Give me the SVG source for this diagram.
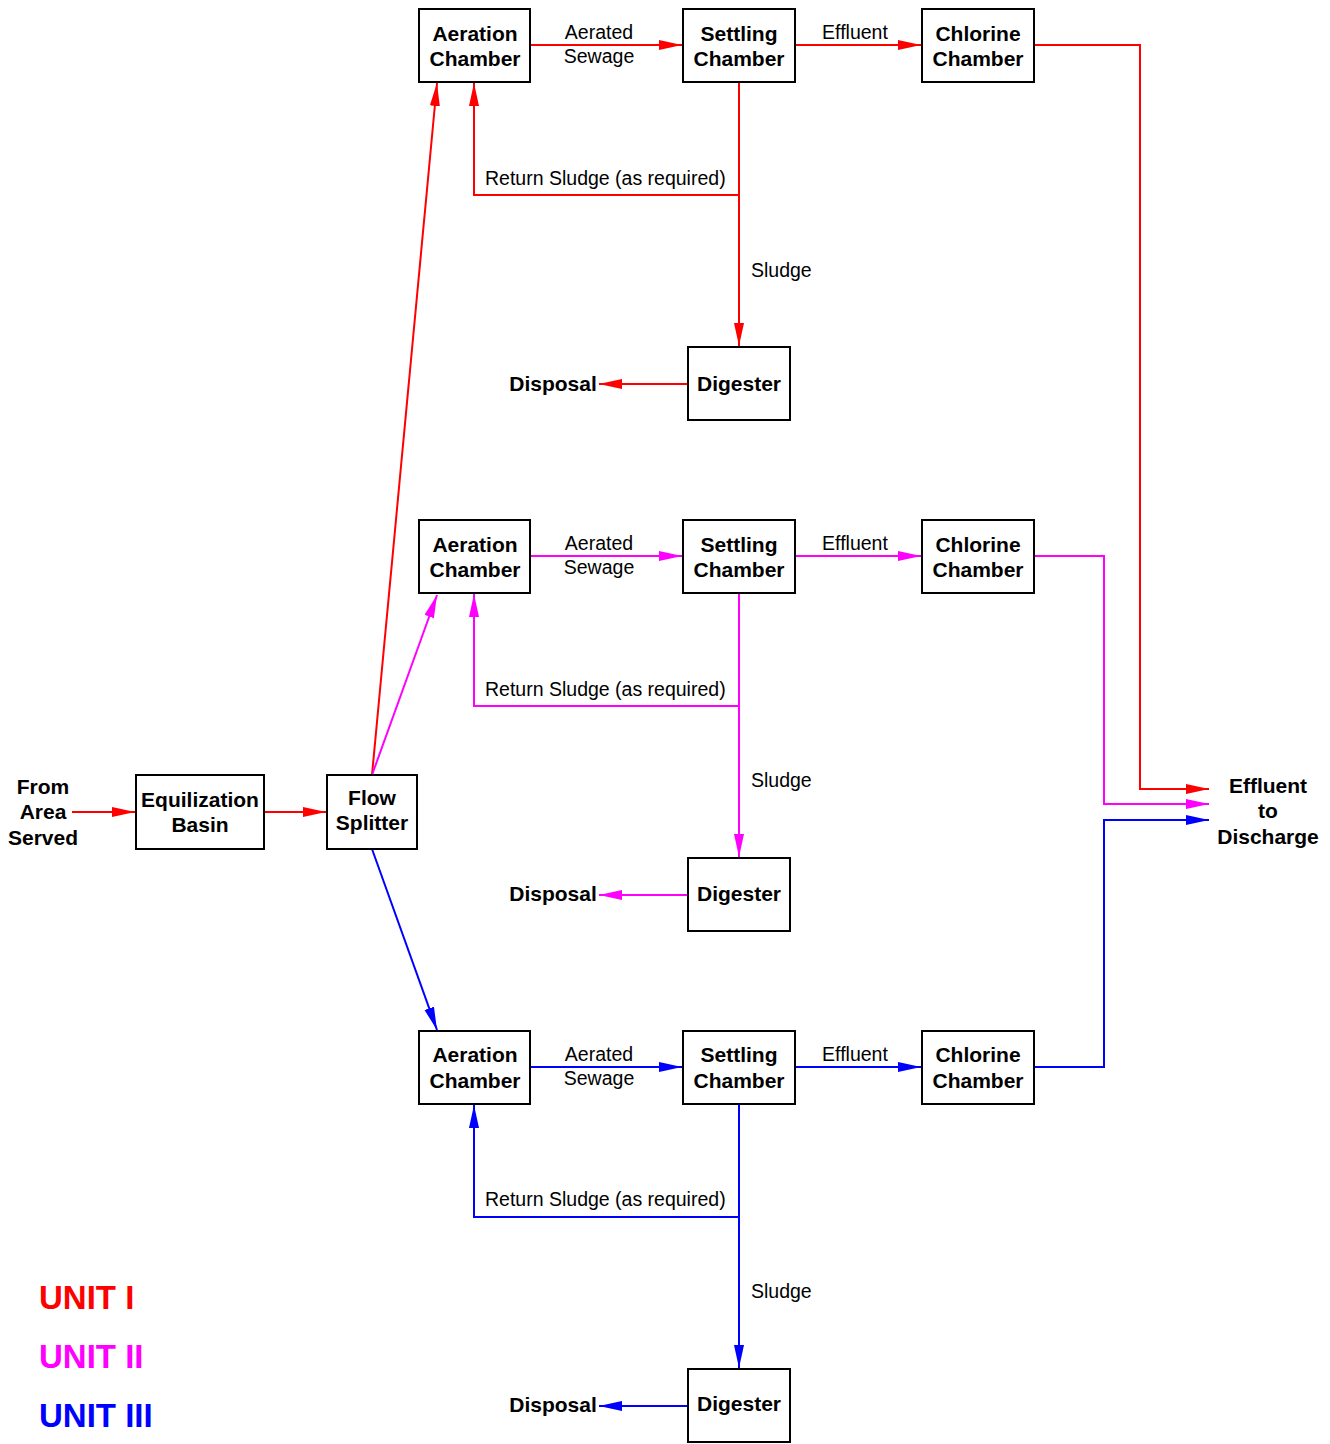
<svg xmlns="http://www.w3.org/2000/svg" width="1330" height="1444" viewBox="0 0 1330 1444">
<style>
.box{fill:#fff;stroke:#000;stroke-width:2}
.bt{font-family:"Liberation Sans",Arial,sans-serif;font-weight:bold;font-size:21px;text-anchor:middle;fill:#000}
.lt{font-family:"Liberation Sans",Arial,sans-serif;font-size:19.5px;fill:#000}
.c{text-anchor:middle}
.r{fill:none;stroke:#ff0000;stroke-width:2}
.m{fill:none;stroke:#ff00ff;stroke-width:2}
.b{fill:none;stroke:#0000ff;stroke-width:2}
.leg{font-family:"Liberation Sans",Arial,sans-serif;font-weight:bold;font-size:33px}
</style>
<defs>
<marker id="ar" markerUnits="userSpaceOnUse" markerWidth="24" markerHeight="12" refX="23" refY="5" orient="auto"><path d="M0,0 L23,5 L0,10 z" fill="#ff0000"/></marker>
<marker id="am" markerUnits="userSpaceOnUse" markerWidth="24" markerHeight="12" refX="23" refY="5" orient="auto"><path d="M0,0 L23,5 L0,10 z" fill="#ff00ff"/></marker>
<marker id="ab" markerUnits="userSpaceOnUse" markerWidth="24" markerHeight="12" refX="23" refY="5" orient="auto"><path d="M0,0 L23,5 L0,10 z" fill="#0000ff"/></marker>
</defs>

<g id="connectors">
<path class="r" d="M72,812 L135,812" marker-end="url(#ar)"/>
<path class="r" d="M264,812 L326,812" marker-end="url(#ar)"/>
<path class="r" d="M372,775 L437,83" marker-end="url(#ar)"/>
<path class="m" d="M372,775 L437,595" marker-end="url(#am)"/>
<path class="b" d="M372,849 L437,1030" marker-end="url(#ab)"/>
<path class="r" d="M530,45 L682,45" marker-end="url(#ar)"/>
<path class="r" d="M795,45 L921,45" marker-end="url(#ar)"/>
<path class="r" d="M739,82 L739,346" marker-end="url(#ar)"/>
<path class="r" d="M739,195 L474,195 L474,83" marker-end="url(#ar)"/>
<path class="r" d="M688,384 L599,384" marker-end="url(#ar)"/>
<path class="r" d="M1034,45 L1140,45 L1140,789 L1209,789" marker-end="url(#ar)"/>
<path class="m" d="M530,556 L682,556" marker-end="url(#am)"/>
<path class="m" d="M795,556 L921,556" marker-end="url(#am)"/>
<path class="m" d="M739,593 L739,857" marker-end="url(#am)"/>
<path class="m" d="M739,706 L474,706 L474,594" marker-end="url(#am)"/>
<path class="m" d="M688,895 L599,895" marker-end="url(#am)"/>
<path class="m" d="M1034,556 L1104,556 L1104,804 L1209,804" marker-end="url(#am)"/>
<path class="b" d="M530,1067 L682,1067" marker-end="url(#ab)"/>
<path class="b" d="M795,1067 L921,1067" marker-end="url(#ab)"/>
<path class="b" d="M739,1104 L739,1368" marker-end="url(#ab)"/>
<path class="b" d="M739,1217 L474,1217 L474,1105" marker-end="url(#ab)"/>
<path class="b" d="M688,1406 L599,1406" marker-end="url(#ab)"/>
<path class="b" d="M1034,1067 L1104,1067 L1104,820 L1209,820" marker-end="url(#ab)"/>
</g>

<g id="edge-labels" class="lt">
<text x="599" y="39" class="c">Aerated</text><text x="599" y="63" class="c">Sewage</text>
<text x="855" y="39" class="c">Effluent</text>
<text x="485" y="185">Return Sludge (as required)</text>
<text x="751" y="277">Sludge</text>
<text x="599" y="550" class="c">Aerated</text><text x="599" y="574" class="c">Sewage</text>
<text x="855" y="550" class="c">Effluent</text>
<text x="485" y="696">Return Sludge (as required)</text>
<text x="751" y="787">Sludge</text>
<text x="599" y="1061" class="c">Aerated</text><text x="599" y="1085" class="c">Sewage</text>
<text x="855" y="1061" class="c">Effluent</text>
<text x="485" y="1206">Return Sludge (as required)</text>
<text x="751" y="1298">Sludge</text>
</g>

<g id="from-area"><text class="bt" x="43" y="794">From</text><text class="bt" x="43" y="819">Area</text><text class="bt" x="43" y="845">Served</text></g>
<g id="equalization"><rect class="box" x="136" y="775" width="128" height="74"/><text class="bt" x="200" y="807">Equilization</text><text class="bt" x="200" y="832">Basin</text></g>
<g id="flow-splitter"><rect class="box" x="327" y="775" width="90" height="74"/><text class="bt" x="372" y="805">Flow</text><text class="bt" x="372" y="830">Splitter</text></g>
<g id="effluent-discharge"><text class="bt" x="1268" y="793">Effluent</text><text class="bt" x="1268" y="818">to</text><text class="bt" x="1268" y="844">Discharge</text></g>

<g id="aeration-1"><rect class="box" x="419" y="9" width="111" height="73"/><text class="bt" x="475" y="41">Aeration</text><text class="bt" x="475" y="66">Chamber</text></g>
<g id="settling-1"><rect class="box" x="683" y="9" width="112" height="73"/><text class="bt" x="739" y="41">Settling</text><text class="bt" x="739" y="66">Chamber</text></g>
<g id="chlorine-1"><rect class="box" x="922" y="9" width="112" height="73"/><text class="bt" x="978" y="41">Chlorine</text><text class="bt" x="978" y="66">Chamber</text></g>
<g id="digester-1"><rect class="box" x="688" y="347" width="102" height="73"/><text class="bt" x="739" y="391">Digester</text></g>
<g id="disposal-1"><text class="bt" x="553" y="391">Disposal</text></g>

<g id="aeration-2"><rect class="box" x="419" y="520" width="111" height="73"/><text class="bt" x="475" y="552">Aeration</text><text class="bt" x="475" y="577">Chamber</text></g>
<g id="settling-2"><rect class="box" x="683" y="520" width="112" height="73"/><text class="bt" x="739" y="552">Settling</text><text class="bt" x="739" y="577">Chamber</text></g>
<g id="chlorine-2"><rect class="box" x="922" y="520" width="112" height="73"/><text class="bt" x="978" y="552">Chlorine</text><text class="bt" x="978" y="577">Chamber</text></g>
<g id="digester-2"><rect class="box" x="688" y="858" width="102" height="73"/><text class="bt" x="739" y="901">Digester</text></g>
<g id="disposal-2"><text class="bt" x="553" y="901">Disposal</text></g>

<g id="aeration-3"><rect class="box" x="419" y="1031" width="111" height="73"/><text class="bt" x="475" y="1062">Aeration</text><text class="bt" x="475" y="1088">Chamber</text></g>
<g id="settling-3"><rect class="box" x="683" y="1031" width="112" height="73"/><text class="bt" x="739" y="1062">Settling</text><text class="bt" x="739" y="1088">Chamber</text></g>
<g id="chlorine-3"><rect class="box" x="922" y="1031" width="112" height="73"/><text class="bt" x="978" y="1062">Chlorine</text><text class="bt" x="978" y="1088">Chamber</text></g>
<g id="digester-3"><rect class="box" x="688" y="1369" width="102" height="73"/><text class="bt" x="739" y="1411">Digester</text></g>
<g id="disposal-3"><text class="bt" x="553" y="1412">Disposal</text></g>

<g id="legend">
<text class="leg" x="39" y="1309" fill="#ff0000">UNIT I</text>
<text class="leg" x="39" y="1368" fill="#ff00ff">UNIT II</text>
<text class="leg" x="39" y="1427" fill="#0000ff">UNIT III</text>
</g>
</svg>
